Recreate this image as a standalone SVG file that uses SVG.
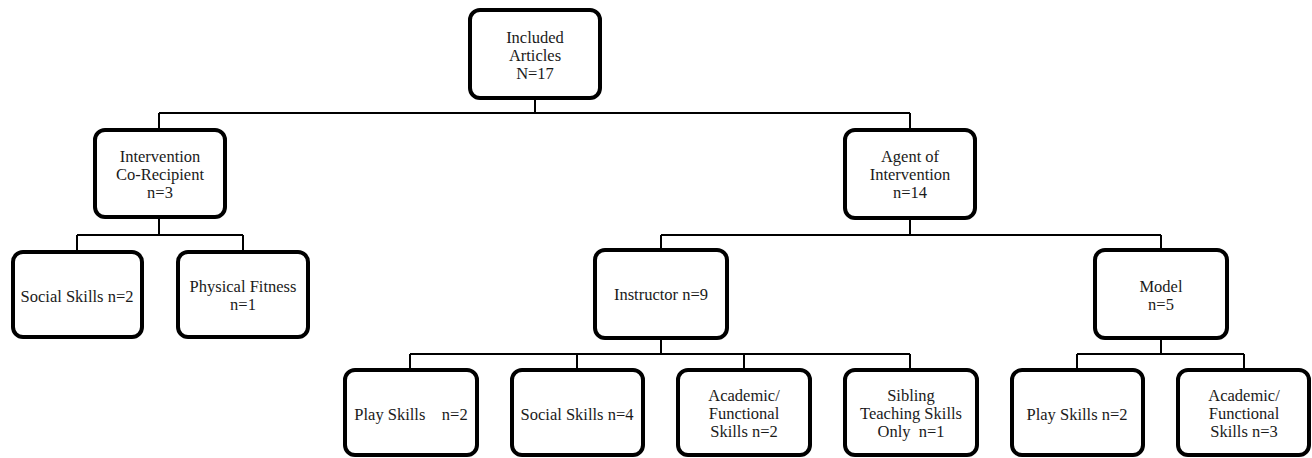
<svg xmlns="http://www.w3.org/2000/svg" width="1312" height="458" viewBox="0 0 1312 458">
<style>
.box{fill:#fff;stroke:#000;stroke-width:4;}
.ln{fill:none;stroke:#000;stroke-width:2;}
text{font-family:"Liberation Serif","Times New Roman",serif;font-size:16.5px;fill:#1a1a1a;text-anchor:middle;white-space:pre;}
</style>
<rect width="1312" height="458" fill="#fff"/>
<g id="connectors">
<path class="ln" d="M535 98V113M159 113H910M159 113V130M910 113V130"/>
<path class="ln" d="M159 217V235M77 235H243M77 235V252M243 235V252"/>
<path class="ln" d="M910 218V235M661 235H1161M661 235V250M1161 235V250"/>
<path class="ln" d="M661 338V354M410 354H910M410 354V370M577 354V370M744 354V370M910 354V370"/>
<path class="ln" d="M1161 338V354M1077 354H1244M1077 354V370M1244 354V370"/>
</g>
<g id="n-root"><rect class="box" x="470" y="10" width="130" height="88" rx="10"/><text x="535" y="43">Included</text><text x="535" y="61">Articles</text><text x="535" y="79">N=17</text></g>
<g id="n-corecipient"><rect class="box" x="95" y="130" width="130" height="87" rx="10"/><text x="160" y="162">Intervention</text><text x="160" y="180">Co-Recipient</text><text x="160" y="198">n=3</text></g>
<g id="n-agent"><rect class="box" x="845" y="130" width="130" height="88" rx="10"/><text x="910" y="162">Agent of</text><text x="910" y="180">Intervention</text><text x="910" y="198">n=14</text></g>
<g id="n-social2"><rect class="box" x="13" y="252" width="129" height="85" rx="10"/><text x="77" y="302">Social Skills n=2</text></g>
<g id="n-physical"><rect class="box" x="178" y="252" width="130" height="85" rx="10"/><text x="243" y="292">Physical Fitness</text><text x="243" y="310">n=1</text></g>
<g id="n-instructor"><rect class="box" x="595" y="250" width="132" height="88" rx="10"/><text x="661" y="300">Instructor n=9</text></g>
<g id="n-model"><rect class="box" x="1095" y="250" width="132" height="88" rx="10"/><text x="1161" y="292">Model</text><text x="1161" y="310">n=5</text></g>
<g id="n-play2"><rect class="box" x="345" y="370" width="132" height="85" rx="10"/><text x="411" y="420">Play Skills    n=2</text></g>
<g id="n-social4"><rect class="box" x="512" y="370" width="131" height="85" rx="10"/><text x="577" y="420">Social Skills n=4</text></g>
<g id="n-academic2"><rect class="box" x="678" y="370" width="132" height="85" rx="10"/><text x="744" y="401">Academic/</text><text x="744" y="419">Functional</text><text x="744" y="437">Skills n=2</text></g>
<g id="n-sibling"><rect class="box" x="845" y="370" width="132" height="85" rx="10"/><text x="911" y="401">Sibling</text><text x="911" y="419">Teaching Skills</text><text x="911" y="437">Only  n=1</text></g>
<g id="n-play2b"><rect class="box" x="1012" y="370" width="131" height="85" rx="10"/><text x="1077" y="420">Play Skills n=2</text></g>
<g id="n-academic3"><rect class="box" x="1178" y="370" width="131" height="85" rx="10"/><text x="1244" y="401">Academic/</text><text x="1244" y="419">Functional</text><text x="1244" y="437">Skills n=3</text></g>
</svg>
